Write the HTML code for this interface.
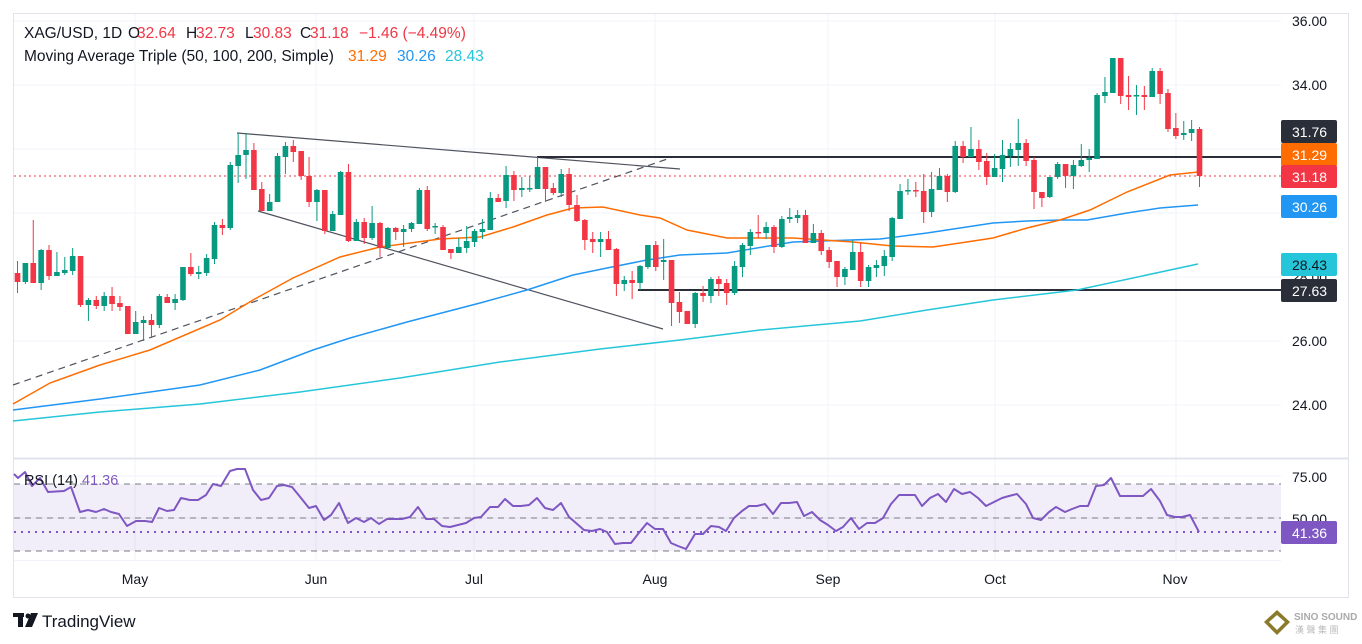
<!DOCTYPE html>
<html><head><meta charset="utf-8">
<style>
html,body{margin:0;padding:0;background:#fff;width:1362px;height:644px;overflow:hidden;font-family:"Liberation Sans",sans-serif}
svg text{font-family:"Liberation Sans",sans-serif}
</style></head>
<body>
<svg id="s" width="1362" height="644" xmlns="http://www.w3.org/2000/svg">
<rect x="13.5" y="13.5" width="1335" height="584" fill="#fff" stroke="#e0e3eb"/>
<g stroke="#f0f3fa" stroke-width="1">
<line x1="135" y1="14" x2="135" y2="560"/><line x1="316" y1="14" x2="316" y2="560"/>
<line x1="474" y1="14" x2="474" y2="560"/><line x1="655" y1="14" x2="655" y2="560"/>
<line x1="828" y1="14" x2="828" y2="560"/><line x1="995" y1="14" x2="995" y2="560"/>
<line x1="1176" y1="14" x2="1176" y2="560"/>
<line x1="14" y1="21" x2="1281" y2="21"/><line x1="14" y1="85" x2="1281" y2="85"/>
<line x1="14" y1="149" x2="1281" y2="149"/><line x1="14" y1="213" x2="1281" y2="213"/>
<line x1="14" y1="277" x2="1281" y2="277"/><line x1="14" y1="341" x2="1281" y2="341"/>
<line x1="14" y1="405" x2="1281" y2="405"/>
<line x1="14" y1="476" x2="1281" y2="476"/><line x1="14" y1="518" x2="1281" y2="518"/>
</g>
<line x1="14" y1="458.5" x2="1348" y2="458.5" stroke="#e0e3eb" stroke-width="2"/>
<line x1="14" y1="560.5" x2="1281" y2="560.5" stroke="#f0f3fa"/>
<rect x="14" y="484" width="1267" height="67" fill="#7e57c2" fill-opacity="0.1"/>
<g stroke="#787b86" stroke-dasharray="6,5" stroke-width="1">
<line x1="14" y1="484" x2="1281" y2="484"/><line x1="14" y1="518" x2="1281" y2="518"/><line x1="14" y1="551" x2="1281" y2="551"/>
</g>
<line x1="14" y1="532" x2="1281" y2="532" stroke="#7e57c2" stroke-width="2" stroke-dasharray="2,5"/>
<line x1="237" y1="133" x2="680" y2="169" stroke="#50535e" stroke-width="1.2"/>
<line x1="258" y1="211" x2="663" y2="329" stroke="#50535e" stroke-width="1.2"/>
<line x1="13" y1="385" x2="673" y2="157" stroke="#50535e" stroke-width="1.2" stroke-dasharray="7,5"/>
<line x1="537" y1="157" x2="1281" y2="157" stroke="#2a2e39" stroke-width="2"/>
<line x1="638" y1="290" x2="1281" y2="290" stroke="#2a2e39" stroke-width="2"/>
<line x1="14" y1="176" x2="1281" y2="176" stroke="#f23645" stroke-width="1" stroke-dasharray="2,3"/>
<polyline fill="none" stroke="#26c6da" stroke-width="1.5" points="13,421 100,412 200,404 300,392 400,378 500,362 600,349 680,340 760,330 860,321 927,310 993,300 1077,290 1198,264"/>
<polyline fill="none" stroke="#2196f3" stroke-width="1.5" points="13,410 100,399 200,385 260,370 313,350 350,338 407,322 480,303 527,290 573,275 607,268 647,260 680,255 727,253 793,242 880,239 927,233 993,223 1027,221 1060,220 1087,220 1127,213 1160,208 1198,205"/>
<polyline fill="none" stroke="#ff6d00" stroke-width="1.5" points="13,404 50,383 100,365 150,350 220,320 253,300 293,278 340,257 380,247 440,239 480,237 513,227 547,215 573,208 603,207 640,215 660,218 687,230 727,238 793,238 853,242 893,246 933,247 960,243 993,238 1027,228 1060,220 1090,210 1127,192 1170,175 1198,172"/>
<g id="candles"></g>
<polyline id="rsi" fill="none" stroke="#7e57c2" stroke-width="2" stroke-linejoin="round" points="14,474 18,478 25,472 32,486 40,478 48,492 64,491 71,487 80,512 88,510 96,512 104,509 111,512 119,514 127,526 136,521 145,521 152,522 159,508 167,511 174,510 181,498 190,500 198,500 206,495 213,484 221,486 230,471 237,469 245,469 253,490 261,500 269,498 277,486 284,485 292,487 301,498 309,508 316,506 324,520 331,515 339,503 348,523 356,518 364,522 371,518 379,524 387,519 394,519 402,519 410,517 418,507 426,519 434,519 442,526 450,527 458,525 466,523 474,518 481,517 490,507 498,507 505,499 513,506 521,506 529,505 537,498 545,508 553,510 561,503 569,517 576,523 584,530 592,531 600,529 607,532 615,544 623,543 631,543 638,534 647,523 655,529 663,529 671,543 678,546 686,549 695,534 703,534 711,526 719,527 726,531 734,518 742,511 749,506 757,506 765,504 773,514 781,503 789,503 797,502 804,516 812,512 820,520 828,525 836,531 843,527 851,518 859,529 867,523 875,523 883,518 891,504 899,495 907,495 915,495 922,506 930,498 938,494 946,502 954,489 962,494 970,492 978,498 986,506 994,502 1002,498 1009,496 1017,494 1026,504 1033,518 1041,520 1049,512 1056,507 1065,512 1072,509 1080,506 1088,506 1096,486 1104,485 1111,478 1120,496 1127,496 1135,496 1143,496 1151,489 1160,501 1167,515 1175,517 1182,517 1190,515 1199,532"/>
<g font-size="15.5" fill="#131722">
<text y="38"><tspan x="24">XAG/USD, 1D</tspan><tspan x="128">O</tspan><tspan x="137" fill="#f23645">32.64</tspan><tspan x="186">H</tspan><tspan x="196" fill="#f23645">32.73</tspan><tspan x="245">L</tspan><tspan x="253" fill="#f23645">30.83</tspan><tspan x="300">C</tspan><tspan x="310" fill="#f23645">31.18</tspan><tspan x="359" fill="#f23645">−1.46 (−4.49%)</tspan></text>
<text y="61"><tspan x="24">Moving Average Triple (50, 100, 200, Simple)</tspan><tspan x="348" fill="#ff6d00">31.29</tspan><tspan x="397" fill="#2196f3">30.26</tspan><tspan x="445" fill="#26c6da">28.43</tspan></text>
</g>
<text x="24" y="485" font-size="14.5" fill="#131722">RSI (14)  <tspan fill="#7e57c2">41.36</tspan></text>
<g font-size="14" fill="#131722">
<text x="1292" y="26">36.00</text><text x="1292" y="90">34.00</text>
<text x="1292" y="218">30.00</text><text x="1292" y="282">28.00</text>
<text x="1292" y="346">26.00</text><text x="1292" y="410">24.00</text>
<text x="1292" y="482">75.00</text><text x="1292" y="524">50.00</text>
</g>
<g font-size="14" fill="#fff">
<rect x="1281" y="120" width="56" height="23" rx="2" fill="#2a2e39"/><text x="1292" y="137">31.76</text>
<rect x="1281" y="143" width="56" height="23" rx="2" fill="#ff6d00"/><text x="1292" y="160">31.29</text>
<rect x="1281" y="165" width="56" height="23" rx="2" fill="#f23645"/><text x="1292" y="182">31.18</text>
<rect x="1281" y="195" width="56" height="23" rx="2" fill="#2196f3"/><text x="1292" y="212">30.26</text>
<rect x="1281" y="253" width="56" height="23" rx="2" fill="#26c6da"/><text x="1292" y="270" fill="#131722">28.43</text>
<rect x="1281" y="279" width="56" height="23" rx="2" fill="#2a2e39"/><text x="1292" y="296">27.63</text>
<rect x="1281" y="521" width="56" height="23" rx="2" fill="#7e57c2"/><text x="1292" y="538">41.36</text>
</g>
<g font-size="14" fill="#131722" text-anchor="middle">
<text x="135" y="584">May</text><text x="316" y="584">Jun</text><text x="474" y="584">Jul</text>
<text x="655" y="584">Aug</text><text x="828" y="584">Sep</text><text x="995" y="584">Oct</text><text x="1175" y="584">Nov</text>
</g>
<g fill="#131722">
<rect x="13" y="613" width="11" height="4"/><rect x="18" y="613" width="5" height="14"/>
<circle cx="28" cy="616" r="2.5"/><polygon points="31,613 38,613 32,627 25,627"/>
</g>
<text x="42" y="627" font-size="17" fill="#131722">TradingView</text>
<polygon points="1277,610 1290,622 1277,635 1264,622" fill="#8a7a2a"/>
<polygon points="1277,615 1285,622 1277,630 1269,622" fill="#fff"/>
<text x="1294" y="620" font-size="10" font-weight="bold" fill="#aaa">SINO SOUND</text>
<text x="1295" y="633" font-size="9" fill="#bbb" font-family="'Noto Sans CJK SC',sans-serif">漢 聲 集 團</text>
</svg>
<script>
var d=[
["r",273,282,261,293],["g",263,282,263,284],["r",263,283,220,283],["g",250,283,249,290],["r",250,276,245,280],["g",272,276,252,276],["g",270,273,257,275],["g",256,271,248,275],["r",256,305,256,307],["g",300,305,298,321],
["r",300,306,296,309],["g",296,306,292,311],["r",296,304,287,311],["r",303,307,296,311],["r",306,334,306,334],["g",322,334,311,334],["g",320,323,316,341],["r",320,325,314,338],["g",296,325,294,328],["r",297,303,294,303],
["g",299,303,294,310],["g",267,300,267,301],["r",267,274,253,276],["g",272,274,266,279],["g",258,273,254,276],["g",225,259,222,264],["r",225,228,219,235],["g",165,228,162,230],["g",155,166,133,183],["g",150,155,133,179],
["r",150,190,143,190],["r",189,211,182,211],["g",202,211,194,211],["g",156,202,153,202],["g",146,157,142,174],["r",146,152,140,162],["r",151,176,151,180],["r",176,202,157,207],["g",190,202,189,221],["r",190,231,190,234],
["g",214,231,211,231],["g",172,215,171,215],["r",172,241,164,242],["g",222,241,219,241],["r",222,238,218,244],["g",223,238,206,240],["r",223,248,222,257],["g",228,248,227,249],["r",228,232,227,240],["g",229,232,225,247],
["g",223,229,222,232],["g",190,224,188,224],["r",190,229,186,231],["g",226,227,223,234],["r",227,250,225,250],["r",249,253,249,259],["g",247,253,238,253],["g",241,248,226,253],["g",231,242,229,247],["g",229,232,219,239],
["g",198,230,192,230],["r",198,202,194,202],["g",175,201,166,208],["r",175,190,171,201],["g",188,190,177,197],["g",188,189,176,192],["g",167,189,157,189],["r",167,189,167,202],["r",188,193,183,195],["g",174,193,169,197],
["r",174,205,168,211],["r",205,221,195,222],["r",220,240,219,250],["r",239,242,232,253],["g",239,242,232,257],["r",239,250,231,250],["r",249,284,248,296],["g",280,284,276,291],["r",280,283,271,299],["g",266,283,265,290],
["g",245,267,245,269],["r",245,267,241,271],["g",260,262,239,280],["r",260,303,260,326],["r",302,312,292,323],["r",311,324,311,324],["g",293,324,292,328],["r",293,296,286,302],["g",279,296,277,303],["r",279,284,276,296],
["r",283,293,279,305],["g",266,293,261,295],["g",245,267,243,277],["g",232,246,229,255],["r",232,233,215,238],["g",227,233,222,239],["r",227,247,225,253],["g",219,247,216,248],["g",217,219,208,223],["g",215,218,210,223],
["r",215,243,210,243],["g",233,243,224,243],["r",233,251,230,255],["r",250,262,247,268],["r",261,277,261,287],["g",269,277,267,285],["g",252,270,240,270],["r",252,281,243,287],["g",267,281,265,287],["g",265,268,260,277],
["g",256,266,250,276],["g",218,257,217,261],["g",191,219,184,219],["g",190,191,179,195],["r",190,191,182,197],["r",191,212,174,223],["g",189,212,172,217],["g",176,190,168,190],["r",176,192,174,202],["g",146,192,141,193],
["r",146,157,141,163],["g",149,157,127,157],["r",149,162,140,170],["r",161,177,153,185],["g",168,177,154,177],["g",155,169,140,182],["g",149,156,143,167],["g",143,150,119,166],["r",143,161,139,166],["r",160,192,157,209],
["r",192,198,192,207],["g",177,197,177,198],["g",164,177,162,179],["r",164,176,164,188],["g",165,176,160,189],["g",160,166,144,167],["g",158,160,149,172],["g",95,159,93,159],["g",92,96,77,103],["g",58,93,58,93],
["r",58,96,58,104],["r",95,97,76,110],["g",95,96,85,115],["r",95,97,86,110],["g",71,97,68,97],["r",71,94,68,104],["r",93,129,89,132],["r",128,136,113,139],["g",133,135,121,140],["g",129,133,120,141],
["r",129,176,127,187]];
var ns="http://www.w3.org/2000/svg",g=document.getElementById("candles");
d.forEach(function(c,i){
var x=17.5+i*7.88,col=c[0]=="g"?"#089981":"#f23645";
var l=document.createElementNS(ns,"line");
l.setAttribute("x1",x);l.setAttribute("x2",x);l.setAttribute("y1",c[3]);l.setAttribute("y2",c[4]);
l.setAttribute("stroke",col);l.setAttribute("stroke-width","1");g.appendChild(l);
var r=document.createElementNS(ns,"rect");
var h=Math.max(c[2]-c[1],1.5);
r.setAttribute("x",x-2.8);r.setAttribute("y",c[1]);r.setAttribute("width","5.6");r.setAttribute("height",h);
r.setAttribute("fill",col);g.appendChild(r);
});
</script>
</body></html>
